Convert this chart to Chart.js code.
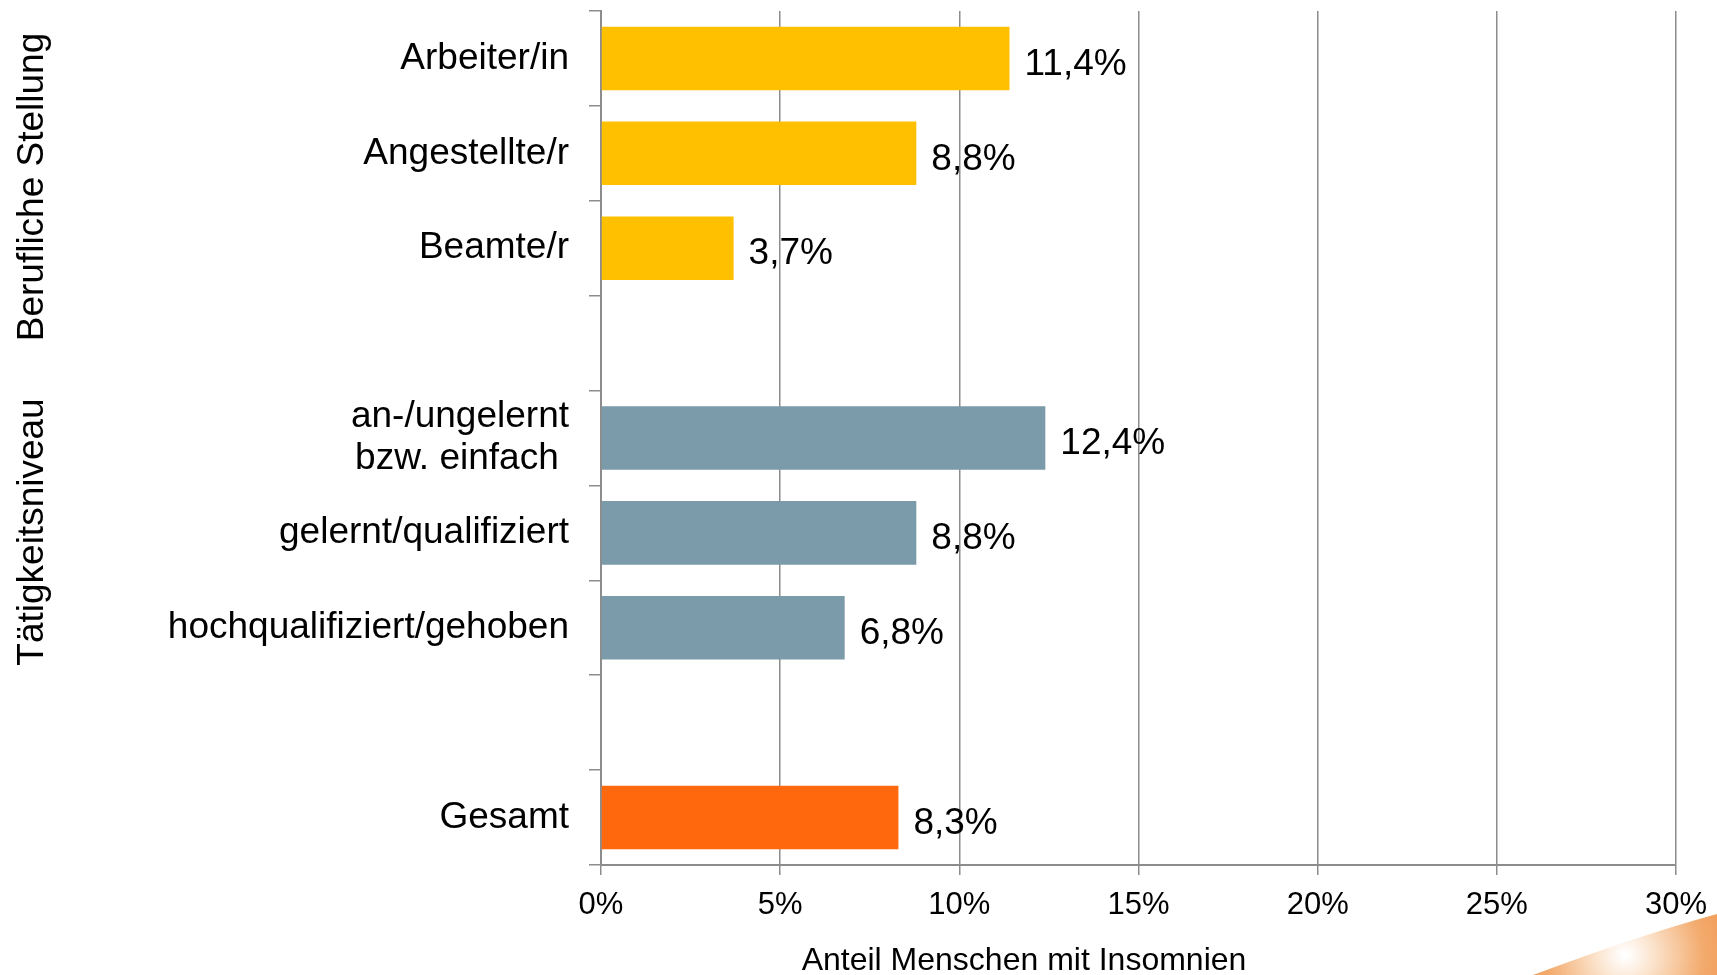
<!DOCTYPE html>
<html>
<head>
<meta charset="utf-8">
<script src="https://cdn.jsdelivr.net/npm/chart.js@4/dist/chart.umd.min.js"></script>
<style>
  html, body { margin: 0; padding: 0; background: #ffffff; }
  #wrap { position: relative; width: 1717px; height: 975px; }
</style>
</head>
<body>
<div id="wrap"><canvas id="c" width="1717" height="975"></canvas></div>
<script>
// ---- data ----
const categories = [
  'Arbeiter/in', 'Angestellte/r', 'Beamte/r', '',
  ['an-/ungelernt', 'bzw. einfach '], 'gelernt/qualifiziert', 'hochqualifiziert/gehoben', '',
  'Gesamt'
];
const values = [11.4, 8.8, 3.7, null, 12.4, 8.8, 6.8, null, 8.3];
const valueLabels = ['11,4%', '8,8%', '3,7%', '', '12,4%', '8,8%', '6,8%', '', '8,3%'];
const groupOf = ['beruf', 'beruf', 'beruf', '', 'taet', 'taet', 'taet', '', 'gesamt'];
const groupTitles = ['Berufliche Stellung', 'Tätigkeitsniveau'];
const xTicks = [0, 5, 10, 15, 20, 25, 30];
const axisTitle = 'Anteil Menschen mit Insomnien';

// ---- styles ----
const FONT = '"Liberation Sans", Arial, Helvetica, sans-serif';
const groupColors = { beruf: '#FFC000', taet: '#7B9BAA', gesamt: '#FF680D', '': '#ffffff' };
const GRID = '#8c8c8c';

const valueLabelPlugin = {
  id: 'valueLabels',
  afterDatasetsDraw(chart) {
    const ctx = chart.ctx;
    const meta = chart.getDatasetMeta(0);
    ctx.save();
    ctx.font = '37px ' + FONT;
    ctx.fillStyle = '#000';
    ctx.textAlign = 'left';
    ctx.textBaseline = 'middle';
    meta.data.forEach((bar, i) => {
      if (values[i] == null) return;
      ctx.fillText(valueLabels[i], bar.x + 15, bar.y + 6);
    });
    ctx.restore();
  }
};

const decorPlugin = {
  id: 'decor',
  afterDraw(chart) {
    const ctx = chart.ctx;
    ctx.save();
    // rotated group titles
    ctx.font = '37px ' + FONT;
    ctx.fillStyle = '#000';
    ctx.textAlign = 'center';
    ctx.textBaseline = 'middle';
    const groupCenters = [187, 532];
    groupTitles.forEach((t, k) => {
      ctx.save();
      ctx.translate(33, groupCenters[k]);
      ctx.rotate(-Math.PI / 2);
      ctx.fillText(t, 0, 0);
      ctx.restore();
    });
    // axis title
    ctx.font = '32px ' + FONT;
    ctx.fillText(axisTitle, 1024, 961);
    // orange corner decoration
    const g = ctx.createRadialGradient(1625, 955, 2, 1625, 955, 110);
    g.addColorStop(0, '#ffffff');
    g.addColorStop(0.25, '#fbe3cc');
    g.addColorStop(0.7, '#f3ab6e');
    g.addColorStop(1, '#f09a55');
    ctx.fillStyle = g;
    ctx.beginPath();
    ctx.moveTo(1533, 975);
    ctx.quadraticCurveTo(1640, 935, 1717, 914);
    ctx.lineTo(1717, 975);
    ctx.closePath();
    ctx.fill();
    ctx.restore();
  }
};

new Chart(document.getElementById('c'), {
  type: 'bar',
  data: {
    labels: categories,
    datasets: [{
      data: values,
      backgroundColor: groupOf.map(g => groupColors[g]),
      borderWidth: 0,
      barPercentage: 0.67,
      categoryPercentage: 1.0
    }]
  },
  options: {
    indexAxis: 'y',
    responsive: false,
    animation: false,
    devicePixelRatio: 1,
    layout: { padding: { top: 11, right: 41, left: 0, bottom: 0 } },
    plugins: { legend: { display: false }, tooltip: { enabled: false } },
    scales: {
      x: {
        min: 0, max: 30,
        afterFit(s) { s.height = 110; s.paddingLeft = 0; s.paddingRight = 0; },
        afterBuildTicks(s) { s.ticks = xTicks.map(v => ({ value: v })); },
        ticks: {
          callback: v => v + '%',
          color: '#000',
          font: { family: FONT, size: 31 },
          padding: 12,
          maxRotation: 0
        },
        grid: { color: GRID, lineWidth: 1.5, tickLength: 10, drawOnChartArea: true },
        border: { color: GRID, width: 2 }
      },
      y: {
        afterFit(s) { s.width = 601; s.paddingTop = 0; s.paddingBottom = 0; },
        ticks: {
          color: '#000',
          font: { family: FONT, size: 37, lineHeight: 1.15 },
          padding: 20
        },
        grid: { color: GRID, lineWidth: 1.5, tickLength: 12, drawOnChartArea: false, offset: true },
        border: { color: GRID, width: 2 }
      }
    }
  },
  plugins: [valueLabelPlugin, decorPlugin]
});
</script>
</body>
</html>
